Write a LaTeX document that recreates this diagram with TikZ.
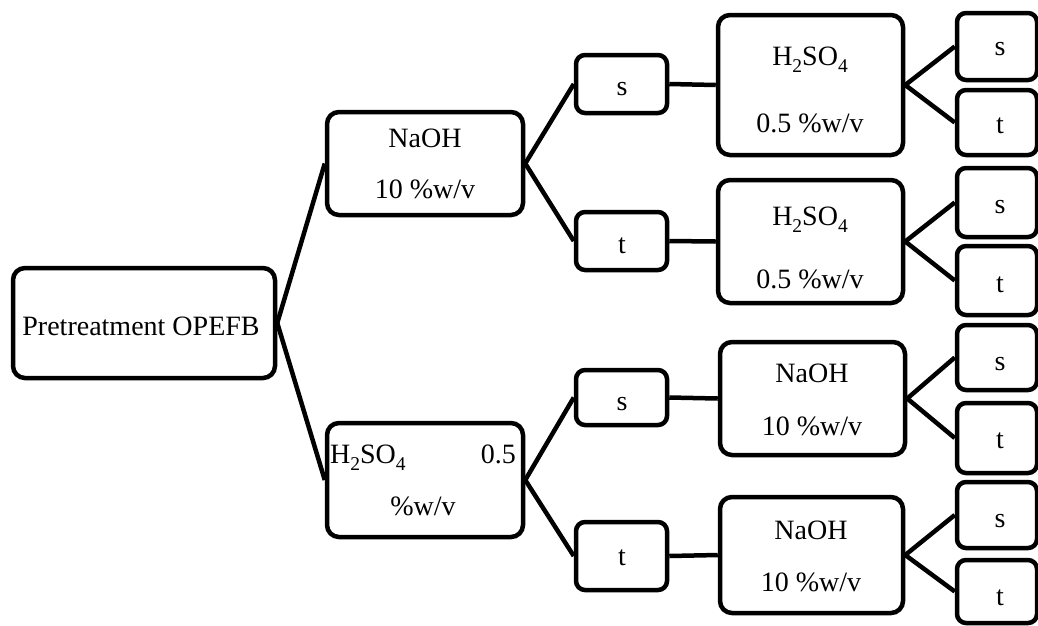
\documentclass[tikz,border=0pt]{standalone}
\usepackage{fontspec}
\setmainfont{Liberation Serif}
\newcommand{\mysub}[1]{\raisebox{-7pt}{\fontsize{19.5}{19.5}\selectfont #1}}
\newcommand{\hso}{H\mysub{2}SO\mysub{4}}
\begin{document}
\begin{tikzpicture}[x=1pt,y=-1pt,
  box/.style={draw=black, line width=4.5pt, rounded corners=12pt, inner sep=0pt, fill=white},
  sbox/.style={draw=black, line width=4.5pt, rounded corners=9pt, inner sep=0pt, fill=white},
  txt/.style={anchor=base, inner sep=0pt, font=\fontsize{28}{30}\selectfont},
  link/.style={line width=4.5pt}]
\useasboundingbox (0,0) rectangle (1038,625);
% boxes
\node[box, minimum width=262pt, minimum height=110pt] (L) at (144,323) {};
\node[box, minimum width=196pt, minimum height=103pt] (N1) at (425,163.5) {};
\node[box, minimum width=196pt, minimum height=114pt] (H1) at (425,480) {};
\node[sbox, minimum width=91pt, minimum height=58pt] (s1) at (621.5,84) {};
\node[sbox, minimum width=91pt, minimum height=58pt] (t1) at (621.5,241) {};
\node[sbox, minimum width=91pt, minimum height=55pt] (s2) at (621.5,397.5) {};
\node[sbox, minimum width=91pt, minimum height=68pt] (t2) at (621.5,556) {};
\node[box, minimum width=185pt, minimum height=140pt] (R1) at (810.5,85) {};
\node[box, minimum width=185pt, minimum height=123pt] (R2) at (810.5,241.5) {};
\node[box, minimum width=185pt, minimum height=113pt] (R3) at (812.5,398.5) {};
\node[box, minimum width=183pt, minimum height=116pt] (R4) at (811.5,555) {};
\node[sbox, minimum width=80pt, minimum height=67pt] (rs1) at (997,46.5) {};
\node[sbox, minimum width=80pt, minimum height=65pt] (rt1) at (997,122.5) {};
\node[sbox, minimum width=80pt, minimum height=69pt] (rs2) at (997,202.5) {};
\node[sbox, minimum width=80pt, minimum height=69pt] (rt2) at (997,280.5) {};
\node[sbox, minimum width=80pt, minimum height=65pt] (rs3) at (997,357.5) {};
\node[sbox, minimum width=80pt, minimum height=70pt] (rt3) at (997,438) {};
\node[sbox, minimum width=80pt, minimum height=66pt] (rs4) at (997,515) {};
\node[sbox, minimum width=80pt, minimum height=63pt] (rt4) at (997,591.5) {};
% connectors
\draw[link] (L.east) -- (N1.west);
\draw[link] (L.east) -- (H1.west);
\draw[link] (N1.east) -- (s1.west);
\draw[link] (N1.east) -- (t1.west);
\draw[link] (H1.east) -- (s2.west);
\draw[link] (H1.east) -- (t2.west);
\draw[link] (s1.east) -- (R1.west);
\draw[link] (t1.east) -- (R2.west);
\draw[link] (s2.east) -- (R3.west);
\draw[link] (t2.east) -- (R4.west);
\draw[link] (R1.east) -- (rs1.west);
\draw[link] (R1.east) -- (rt1.west);
\draw[link] (R2.east) -- (rs2.west);
\draw[link] (R2.east) -- (rt2.west);
\draw[link] (R3.east) -- (rs3.west);
\draw[link] (R3.east) -- (rt3.west);
\draw[link] (R4.east) -- (rs4.west);
\draw[link] (R4.east) -- (rt4.west);
% texts
\node[txt] (Lt) at (141,335) {Pretreatment OPEFB};
\node[txt] (N1a) at (425,147) {NaOH};
\node[txt] (N1b) at (425,198) {10 \%w/v};
\node[txt, anchor=base west] (H1a) at (330,463) {\hso};
\node[txt, anchor=base east] (H1b) at (516,463) {0.5};
\node[txt] (H1c) at (423,515) {\%w/v};
\node[txt] (R1a) at (810,65) {\hso};
\node[txt] (R1b) at (810,132) {0.5 \%w/v};
\node[txt] (R2a) at (810,225) {\hso};
\node[txt] (R2b) at (810,288) {0.5 \%w/v};
\node[txt] (R3a) at (812,382) {NaOH};
\node[txt] (R3b) at (812,435) {10 \%w/v};
\node[txt] (R4a) at (811,539) {NaOH};
\node[txt] (R4b) at (811,591) {10 \%w/v};
\node[txt] (s1t) at (622,95) {s};
\node[txt] (t1t) at (622,253) {t};
\node[txt] (s2t) at (622,410) {s};
\node[txt] (t2t) at (622,565) {t};
\node[txt] (rs1t) at (1000,55) {s};
\node[txt] (rt1t) at (1000,133) {t};
\node[txt] (rs2t) at (1000,213) {s};
\node[txt] (rt2t) at (1000,292) {t};
\node[txt] (rs3t) at (1000,370) {s};
\node[txt] (rt3t) at (1000,448) {t};
\node[txt] (rs4t) at (1000,527) {s};
\node[txt] (rt4t) at (1000,605) {t};
\end{tikzpicture}
\end{document}
